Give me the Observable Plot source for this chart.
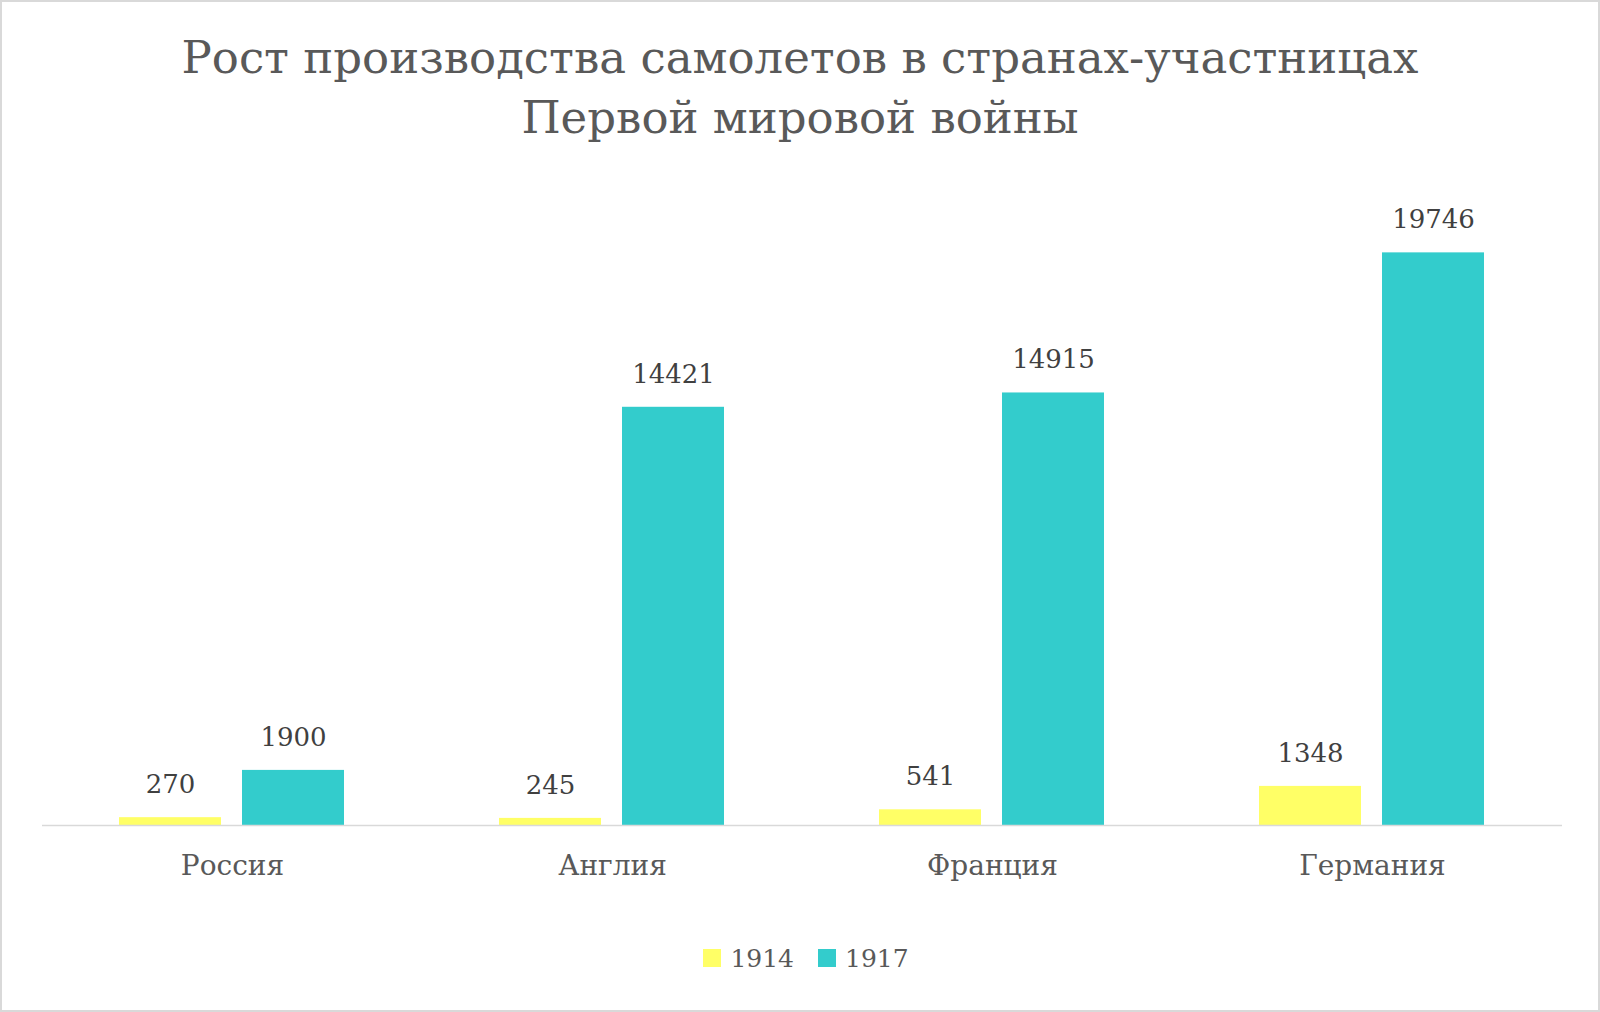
<!DOCTYPE html>
<html>
<head>
<meta charset="utf-8">
<script src="https://cdn.jsdelivr.net/npm/d3@7"></script>
<script src="https://cdn.jsdelivr.net/npm/@observablehq/plot@0.6"></script>
<style>
  html, body { margin: 0; padding: 0; background: #fff; }
  #wrap {
    width: 1600px; height: 1012px; box-sizing: border-box;
    border: 2px solid #d9d9d9; background: #fff; overflow: hidden;
    font-family: "DejaVu Serif", serif;
  }
  #title {
    box-sizing: border-box; height: 146px; padding-top: 26px;
    text-align: center; color: #595959; font-size: 45px; line-height: 60px;
  }
  #chart svg { display: block; }
  #legend {
    box-sizing: border-box; padding-left: 12px;
    height: 76px; display: flex; align-items: center; justify-content: center;
    color: #595959; font-size: 25px;
  }
  .item { display: flex; align-items: center; margin: 0 12px; }
  .sw { width: 18px; height: 18px; margin-right: 9px; }
</style>
</head>
<body>
<div id="wrap">
  <div id="title">Рост производства самолетов в странах-участницах<br>Первой мировой войны</div>
  <div id="chart"></div>
  <div id="legend"></div>
</div>
<script>
const countries = ["Россия", "Англия", "Франция", "Германия"];
const years = ["1914", "1917"];
const values1914 = [270, 245, 541, 1348];
const values1917 = [1900, 14421, 14915, 19746];
const colors = ["#FFFF66", "#33CCCC"];

const data = countries.flatMap((c, i) => [
  {country: c, year: years[0], value: values1914[i]},
  {country: c, year: years[1], value: values1917[i]}
]);

const chart = Plot.plot({
  width: 1596,
  height: 772,
  marginLeft: 38,
  marginRight: 35,
  marginTop: 39,
  marginBottom: 95,
  style: {fontFamily: "DejaVu Serif", background: "transparent", overflow: "visible"},
  fx: {domain: countries, padding: 0, label: null},
  x: {domain: years, paddingInner: 0.1707, paddingOuter: 0.62, axis: null},
  y: {domain: [0, 22000], axis: null},
  color: {domain: years, range: colors},
  marks: [
    Plot.barY(data, {fx: "country", x: "year", y: "value", fill: "year"}),
    Plot.ruleY([0], {stroke: "#d9d9d9", strokeWidth: 1.5}),
    Plot.text(data, {fx: "country", x: "year", y: "value", text: d => String(d.value), dy: -33, fontSize: 26, fill: "#404040"}),
    Plot.axisFx({anchor: "bottom", tickSize: 0, tickPadding: 30, fontSize: 28, color: "#595959", label: null})
  ]
});
document.getElementById("chart").appendChild(chart);

const legend = document.getElementById("legend");
years.forEach((y, i) => {
  const item = document.createElement("div");
  item.className = "item";
  const sw = document.createElement("div");
  sw.className = "sw";
  sw.style.background = colors[i];
  const t = document.createElement("span");
  t.textContent = y;
  item.appendChild(sw);
  item.appendChild(t);
  legend.appendChild(item);
});
</script>
</body>
</html>
